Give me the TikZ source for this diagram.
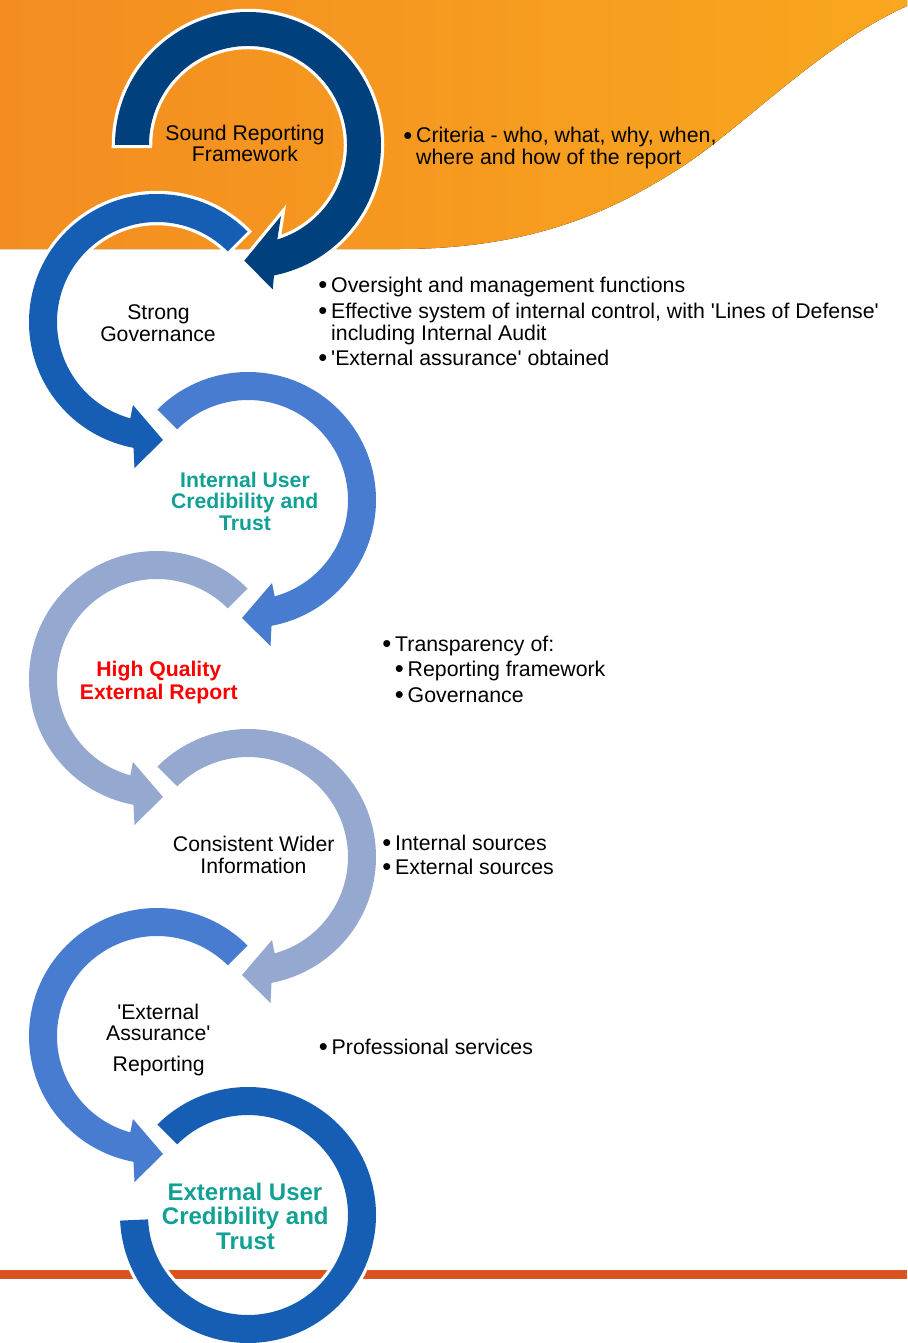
\documentclass[tikz,border=0pt]{standalone}
\usepackage{graphicx}
\usepackage{fontspec}
\setmainfont{Liberation Sans}[Ligatures=TeXOff]
\definecolor{orgL}{HTML}{F38D21}
\definecolor{orgR}{HTML}{F9A71E}
\definecolor{orline}{HTML}{DA5422}
\definecolor{c1}{HTML}{00407C}
\definecolor{c2}{HTML}{165DB4}
\definecolor{c3}{HTML}{477CD0}
\definecolor{c4}{HTML}{94A8D0}
\definecolor{c5}{HTML}{94A8D0}
\definecolor{c6}{HTML}{477CD0}
\definecolor{c7}{HTML}{165DB4}
\definecolor{tealtxt}{HTML}{10A094}
\definecolor{redtxt}{HTML}{FF0000}
\newcommand\bu{\llap{\raisebox{-1.1pt}{\scalebox{1.2}{\textbullet}}\hspace{3.8pt}}}
\tikzset{
  lbl/.style={font=\fontsize{21.2}{22}\selectfont, inner sep=0pt, anchor=base},
  blbl/.style={font=\fontsize{21.2}{22}\selectfont\bfseries, inner sep=0pt, anchor=base},
  bul/.style={font=\fontsize{21.3}{22}\selectfont, inner sep=0pt, anchor=base west},
  arrowshape/.style={fill=#1, preaction={draw=white, line width=6.5pt, line join=miter}},
}
\begin{document}
\begin{tikzpicture}[x=1pt,y=-1pt]
\useasboundingbox (0,0) rectangle (907,1343);
\clip (0,0) rectangle (907,1343);
% orange wave background
\fill[left color=orgL, right color=orgR] (0,0) -- (907,0) -- (907,6)
  .. controls (820,45) and (740,130) .. (680,168)
  .. controls (620,206) and (540,249) .. (400,249) -- (0,249) -- cycle;
% bottom line
\fill[orline] (0,1269.5) rectangle (907,1278.5);
% arrow 1
\begin{scope}[shift={(248,145)}, yscale=-1]
  \path[arrowshape=c1] (180:133) arc[start angle=180, end angle=-78.7, radius=133]
    -- (24.7,-144.3) -- (-3.7,-115.7) -- (33,-71)
    -- (-72.8:99) arc[start angle=-72.8, end angle=180, radius=99] -- cycle;
\end{scope}
% arrows 2-6
\foreach \cx/\cy/\col/\mx in {157/322/c2/-1, 248/500/c3/1, 157/679/c4/-1, 248/857/c5/1, 157/1036/c6/-1}{
  \begin{scope}[shift={(\cx,\cy)}, xscale=\mx, yscale=-1]
    \path[arrowshape=\col] (135:128) arc[start angle=135, end angle=-79.4, radius=128]
      -- (22.5,-146) -- (-6,-118) -- (24,-83)
      -- (-74.5:100) arc[start angle=-74.5, end angle=135, radius=100] -- cycle;
  \end{scope}
}
% arrow 7 (ring)
\begin{scope}[shift={(248,1215)}, yscale=-1]
  \path[arrowshape=c7] (135:128) arc[start angle=135, end angle=-177.5, radius=128]
    -- (-177.5:100) arc[start angle=-177.5, end angle=135, radius=100] -- cycle;
\end{scope}
% texts
\node[lbl] (t1a) at (245,140.7) {Sound Reporting};
\node[lbl] (t1b) at (245,161.7) {Framework};
\node[bul] (b1a) at (416,143) {\bu Criteria - who, what, why, when,};
\node[bul] (b1b) at (416,165) {where and how of the report};
\node[lbl] (t2a) at (158.5,319.5) {Strong};
\node[lbl] (t2b) at (158,341.5) {Governance};
\node[bul] (b2a) at (331,292) {\bu Oversight and management functions};
\node[bul] (b2b) at (331,318) {\bu Effective system of internal control, with 'Lines of Defense'};
\node[bul] (b2c) at (331,340) {including Internal Audit};
\node[bul] (b2d) at (331,365) {\bu 'External assurance' obtained};
\node[blbl, text=tealtxt] (t3a) at (245,487.3) {Internal User};
\node[blbl, text=tealtxt] (t3b) at (244.7,508.5) {Credibility and};
\node[blbl, text=tealtxt] (t3c) at (245,530.7) {Trust};
\node[bul] (b4a) at (395,651) {\bu Transparency of:};
\node[bul] (b4b) at (407.5,676.7) {\bu Reporting framework};
\node[bul] (b4c) at (407.5,702.3) {\bu Governance};
\node[blbl, text=redtxt] (t4a) at (158.8,676.7) {High Quality};
\node[blbl, text=redtxt] (t4b) at (158.8,699) {External Report};
\node[lbl] (t5a) at (253.7,851.7) {Consistent Wider};
\node[lbl] (t5b) at (253.5,873.3) {Information};
\node[bul] (b5a) at (395,850) {\bu Internal sources};
\node[bul] (b5b) at (395,874.3) {\bu External sources};
\node[lbl] (t6a) at (158.2,1019) {'External};
\node[lbl] (t6b) at (158.3,1040.7) {Assurance'};
\node[lbl] (t6c) at (158.7,1071.7) {Reporting};
\node[bul] (b6a) at (331.5,1054.3) {\bu Professional services};
\node[font=\fontsize{24}{25}\selectfont\bfseries, inner sep=0pt, anchor=base, text=tealtxt] (t7a) at (245,1200) {External User};
\node[font=\fontsize{24}{25}\selectfont\bfseries, inner sep=0pt, anchor=base, text=tealtxt] (t7b) at (245.3,1224) {Credibility and};
\node[font=\fontsize{24}{25}\selectfont\bfseries, inner sep=0pt, anchor=base, text=tealtxt] (t7c) at (245.5,1249.3) {Trust};
\end{tikzpicture}
\end{document}
